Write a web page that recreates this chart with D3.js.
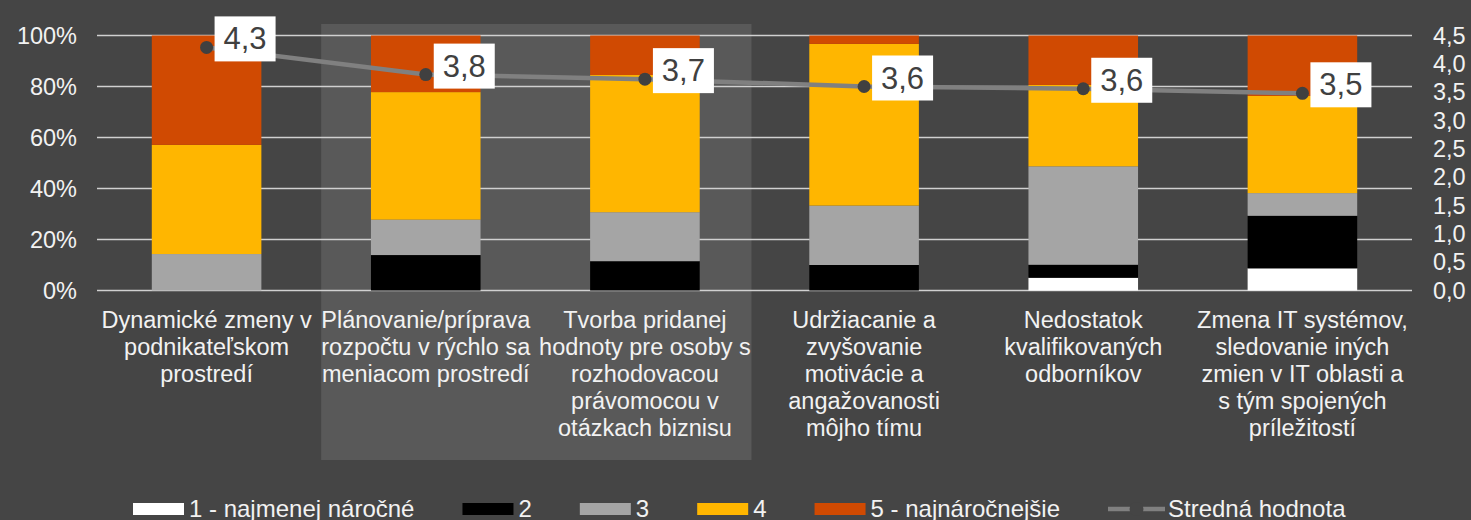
<!DOCTYPE html>
<html>
<head>
<meta charset="utf-8">
<script src="https://cdnjs.cloudflare.com/ajax/libs/d3/7.8.5/d3.min.js"></script>
<style>
  body { margin: 0; background: #454545; }
  svg { display: block; font-family: "Liberation Sans", Arial, sans-serif; }
</style>
</head>
<body>
<script>
(function(){
//chart data
var categories = [
    ["Dynamické zmeny v", "podnikateľskom", "prostredí"],
    ["Plánovanie/príprava", "rozpočtu v rýchlo sa", "meniacom prostredí"],
    ["Tvorba pridanej", "hodnoty pre osoby s", "rozhodovacou", "právomocou v", "otázkach biznisu"],
    ["Udržiacanie a", "zvyšovanie", "motivácie a", "angažovanosti", "môjho tímu"],
    ["Nedostatok", "kvalifikovaných", "odborníkov"],
    ["Zmena IT systémov,", "sledovanie iných", "zmien v IT oblasti a", "s tým spojených", "príležitostí"]
];
var seriesNames = ["1 - najmenej náročné", "2", "3", "4", "5 - najnáročnejšie"];
var level1 = [0, 0, 0, 0, 5.0, 8.7];
var level2 = [0, 13.9, 11.5, 10.0, 5.1, 20.6];
var level3 = [14.3, 13.9, 19.2, 23.3, 38.6, 8.9];
var level4 = [42.8, 50.0, 53.8, 63.4, 31.9, 38.1];
var level5 = [42.9, 22.2, 15.5, 3.3, 19.4, 23.7];
var meanValues = [4.29, 3.81, 3.73, 3.60, 3.56, 3.48];
var leftTicks = [0, 20, 40, 60, 80, 100];
var rightTicks = [0, 0.5, 1, 1.5, 2, 2.5, 3, 3.5, 4, 4.5];
var lineName = "Stredná hodnota";

var colors = ["#ffffff", "#000000", "#a5a5a5", "#ffb600", "#d04a02"];

window.onload = drawChart();

function drawChart(){
    var width = 1471,
        height = 520,
        plotLeft = 97,
        plotRight = 1412,
        plotTop = 35.5,
        plotBottom = 290.5;

    var svg = d3.select("body")
        .append("svg")
        .attr("width", width)
        .attr("height", height);

    svg.append("rect")
        .attr("width", width)
        .attr("height", height)
        .attr("fill", "#454545");

    //scales
    var x = d3.scaleBand()
        .domain(d3.range(categories.length))
        .range([plotLeft, plotRight])
        .paddingInner(0.5)
        .paddingOuter(0.25);
    var y = d3.scaleLinear()
        .domain([0, 100])
        .range([plotBottom, plotTop]);
    var y2 = d3.scaleLinear()
        .domain([0, 4.5])
        .range([plotBottom, plotTop]);

    //highlight box behind the 2nd and 3rd category
    svg.append("rect")
        .attr("x", x.range()[0] + x.step() + 5)
        .attr("y", plotTop - 11.5)
        .attr("width", x.step() * 2 - 8)
        .attr("height", 436)
        .attr("fill", "#595959");

    //gridlines
    svg.append("g")
        .selectAll("line")
        .data(leftTicks)
        .enter()
        .append("line")
        .attr("x1", plotLeft)
        .attr("x2", plotRight)
        .attr("y1", function(d){ return y(d); })
        .attr("y2", function(d){ return y(d); })
        .attr("stroke", "#d0d0d0")
        .attr("stroke-width", 1.5);

    //left axis
    var leftAxis = svg.append("g")
        .attr("transform", "translate(" + (plotLeft - 20) + ",0)")
        .call(d3.axisLeft(y).tickValues(leftTicks).tickSize(0).tickPadding(0)
            .tickFormat(function(d){ return d + "%"; }));
    //right axis
    var rightAxis = svg.append("g")
        .attr("transform", "translate(" + (plotRight + 21) + ",0)")
        .call(d3.axisRight(y2).tickValues(rightTicks).tickSize(0).tickPadding(0)
            .tickFormat(function(d){ return d3.format(".1f")(d).replace(".", ","); }));
    [leftAxis, rightAxis].forEach(function(ax){
        ax.select(".domain").remove();
        ax.selectAll("text")
            .attr("fill", "#f2f2f2")
            .style("font-size", "23.5px")
            .style("font-family", "'Liberation Sans', Arial, sans-serif");
    });

    //stack the series
    var levels = [level1, level2, level3, level4, level5];
    var rows = categories.map(function(c, i){
        var r = {index: i};
        levels.forEach(function(lv, k){ r["s" + k] = lv[i]; });
        return r;
    });
    var stack = d3.stack().keys(["s0", "s1", "s2", "s3", "s4"]);
    var stacked = stack(rows);

    svg.append("g")
        .selectAll("g")
        .data(stacked)
        .enter()
        .append("g")
        .attr("fill", function(d, k){ return colors[k]; })
        .selectAll("rect")
        .data(function(d){ return d; })
        .enter()
        .append("rect")
        .attr("x", function(d){ return x(d.data.index); })
        .attr("width", x.bandwidth())
        .attr("y", function(d){ return y(d[1]); })
        .attr("height", function(d){ return y(d[0]) - y(d[1]); });

    //mean line
    var line = d3.line()
        .x(function(d, i){ return x(i) + x.bandwidth() / 2; })
        .y(function(d){ return y2(d); });
    svg.append("path")
        .datum(meanValues)
        .attr("d", line)
        .attr("fill", "none")
        .attr("stroke", "#808080")
        .attr("stroke-width", 4.5);

    svg.append("g")
        .selectAll("circle")
        .data(meanValues)
        .enter()
        .append("circle")
        .attr("cx", function(d, i){ return x(i) + x.bandwidth() / 2; })
        .attr("cy", function(d){ return y2(d); })
        .attr("r", 6.5)
        .attr("fill", "#404040");

    //data labels in white boxes
    var labels = svg.append("g")
        .selectAll("g")
        .data(meanValues)
        .enter()
        .append("g")
        .attr("transform", function(d, i){
            return "translate(" + (x(i) + x.bandwidth() / 2 + 8) + "," + (y2(d) - 31) + ")";
        });
    labels.append("rect")
        .attr("width", 61)
        .attr("height", 45)
        .attr("fill", "#ffffff");
    labels.append("text")
        .attr("x", 30.5)
        .attr("y", 33)
        .attr("text-anchor", "middle")
        .attr("fill", "#404040")
        .style("font-size", "31px")
        .text(function(d){ return d3.format(".1f")(d).replace(".", ","); });

    //category labels
    var catText = svg.append("g")
        .selectAll("text")
        .data(categories)
        .enter()
        .append("text")
        .attr("text-anchor", "middle")
        .attr("fill", "#f2f2f2")
        .style("font-size", "23.5px");
    catText.selectAll("tspan")
        .data(function(d, i){ return d.map(function(t){ return {t: t, i: i}; }); })
        .enter()
        .append("tspan")
        .attr("x", function(d){ return x(d.i) + x.bandwidth() / 2; })
        .attr("y", function(d, j){ return 328 + j * 27; })
        .text(function(d){ return d.t; });

    //legend
    var legend = svg.append("g");
    var lx = 133,
        ly = 509;
    seriesNames.forEach(function(name, k){
        legend.append("rect")
            .attr("x", lx)
            .attr("y", ly - 6)
            .attr("width", 51)
            .attr("height", 12)
            .attr("fill", colors[k]);
        var t = legend.append("text")
            .attr("x", lx + 56)
            .attr("y", ly + 8)
            .attr("fill", "#f2f2f2")
            .style("font-size", "24px")
            .text(name);
        lx = lx + 56 + t.node().getComputedTextLength() + 48;
    });
    legend.append("line")
        .attr("x1", lx)
        .attr("x2", lx + 57)
        .attr("y1", ly)
        .attr("y2", ly)
        .attr("stroke", "#808080")
        .attr("stroke-width", 4.5);
    legend.append("circle")
        .attr("cx", lx + 28.5)
        .attr("cy", ly)
        .attr("r", 7)
        .attr("fill", "#454545");
    legend.append("text")
        .attr("x", lx + 60)
        .attr("y", ly + 8)
        .attr("fill", "#f2f2f2")
        .style("font-size", "24px")
        .text(lineName);
};//end of drawChart

})();
</script>
</body>
</html>
